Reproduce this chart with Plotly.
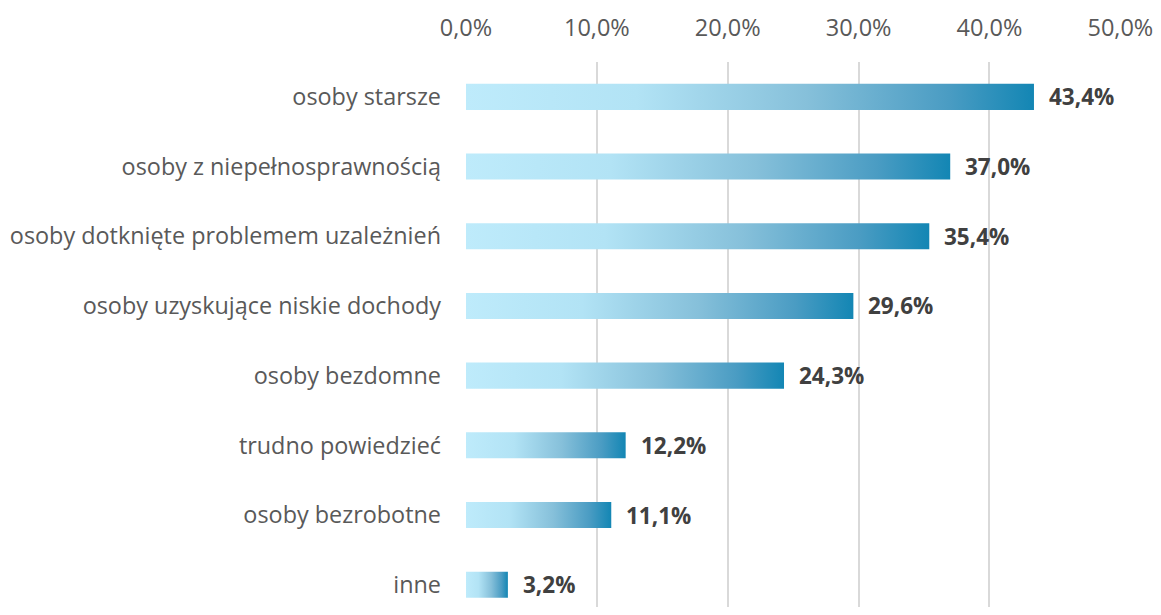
import plotly.graph_objects as go

categories = ["osoby starsze", "osoby z niepełnosprawnością", "osoby dotknięte problemem uzależnień",
              "osoby uzyskujące niskie dochody", "osoby bezdomne", "trudno powiedzieć",
              "osoby bezrobotne", "inne"]
values = [43.4, 37.0, 35.4, 29.6, 24.3, 12.2, 11.1, 3.2]
tick_values = [0, 10, 20, 30, 40, 50]
tick_labels = ["0,0%", "10,0%", "20,0%", "30,0%", "40,0%", "50,0%"]

FONT = "Open Sans"
half = 0.187
scale = [[0.0, "#BEEBFB"], [0.3, "#B2E3F5"], [0.6, "#86C0DA"], [0.85, "#4A9CC3"], [1.0, "#1386B4"]]

fig = go.Figure()
for i, (c, v) in enumerate(zip(categories, values)):
    fig.add_trace(go.Scatter(
        x=[0, v, v, 0, 0], y=[i - half, i - half, i + half, i + half, i - half],
        mode="lines", fill="toself", line=dict(width=0),
        fillcolor="#7FBAD6",
        fillgradient=dict(type="horizontal", colorscale=scale),
        hoverinfo="skip", showlegend=False))
    fig.add_annotation(x=v, y=i, text="<b>" + f"{v:.1f}".replace(".", ",") + "%</b>",
                       showarrow=False, xanchor="left", xshift=13,
                       font=dict(family=FONT, size=22.5, color="#404040"))

# page body has an 8px margin; offset figure accordingly
fig.update_layout(
    width=1145, height=599,
    margin=dict(l=458, r=24, t=54, b=0),
    plot_bgcolor="white", paper_bgcolor="white",
    font=dict(family=FONT, size=23, color="#595959"),
    xaxis=dict(side="top", range=[0, 50.05], tickvals=tick_values, ticktext=tick_labels,
               showgrid=True, gridcolor="#D9D9D9", gridwidth=1.5, zeroline=False,
               showline=False, ticks="", ticklabelstandoff=20, ticklabeloverflow="allow",
               tickfont=dict(family=FONT, size=23.5, color="#595959")),
    yaxis=dict(range=[7.32, -0.5], tickvals=list(range(len(categories))), ticktext=categories,
               showgrid=False, zeroline=False, showline=False, ticks="",
               ticklabelstandoff=24,
               tickfont=dict(family=FONT, size=23.4, color="#595959")),
)

fig.write_html("out.html")
